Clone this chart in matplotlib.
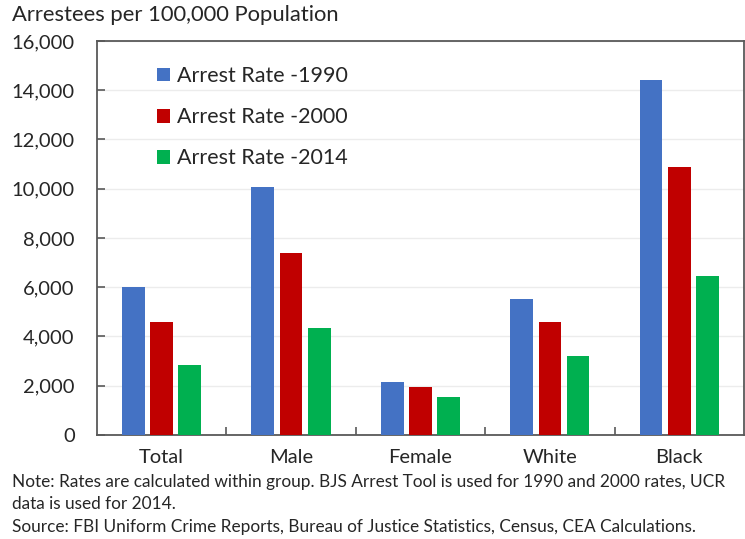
import matplotlib.pyplot as plt
import numpy as np
from matplotlib.ticker import FuncFormatter, FixedLocator

plt.rcParams['font.family'] = ['Lato', 'DejaVu Sans']

groups = ["Total", "Male", "Female", "White", "Black"]
rate_1990 = [6000, 10080, 2140, 5540, 14400]
rate_2000 = [4600, 7390, 1950, 4590, 10900]
rate_2014 = [2850, 4350, 1540, 3200, 6450]
series = [("Arrest Rate -1990", rate_1990, "#4472C4"),
          ("Arrest Rate -2000", rate_2000, "#C00000"),
          ("Arrest Rate -2014", rate_2014, "#00B050")]

fig = plt.figure(figsize=(7.45, 5.39), dpi=100)
ax = fig.add_axes([0.13, 0.193, 0.8687, 0.731])

x = np.arange(len(groups))
w = 0.175
step = 0.218
for i, (name, vals, col) in enumerate(series):
    ax.bar(x + (i - 1) * step, vals, width=w, color=col, label=name, zorder=3)

ax.set_xlim(-0.5, len(groups) - 0.5)
ax.set_ylim(0, 16000)
ax.set_yticks(range(0, 16001, 2000))
ax.yaxis.set_major_formatter(FuncFormatter(lambda v, p: f"{int(v):,}"))
ax.set_xticks(x)
ax.set_xticklabels(groups)
ax.xaxis.set_minor_locator(FixedLocator(x[:-1] + 0.5))
ax.tick_params(axis='x', which='major', length=0, pad=10, labelsize=14.5, colors='#262626')
ax.tick_params(axis='x', which='minor', direction='in', length=6, width=1.2, color='#595959')
ax.tick_params(axis='y', direction='in', length=6, width=1.2, color='#595959',
               labelsize=14.5, labelcolor='#262626', pad=16)

ax.grid(axis='y', color='#ececec', linewidth=1, zorder=0)
for s in ax.spines.values():
    s.set_color('#595959')
    s.set_linewidth(1.3)

ax.legend(loc='upper left', bbox_to_anchor=(0.063, 0.985), frameon=False,
          fontsize=15.5, handlelength=0.6, handleheight=0.6, handletextpad=0.35,
          labelspacing=0.98, labelcolor='#262626')

fig.text(0.016, 0.972, "Arrestees per 100,000 Population", fontsize=15.8,
         color='#262626', va='center', ha='left')
fig.text(0.016, 0.105, "Note: Rates are calculated within group. BJS Arrest Tool is used for 1990 and 2000 rates, UCR",
         fontsize=12.4, color='#262626', va='center', ha='left')
fig.text(0.016, 0.065, "data is used for 2014.", fontsize=12.4, color='#262626', va='center', ha='left')
fig.text(0.016, 0.022, "Source: FBI Uniform Crime Reports, Bureau of Justice Statistics, Census, CEA Calculations.",
         fontsize=12.4, color='#262626', va='center', ha='left')

fig.savefig("out.png", dpi=100)
